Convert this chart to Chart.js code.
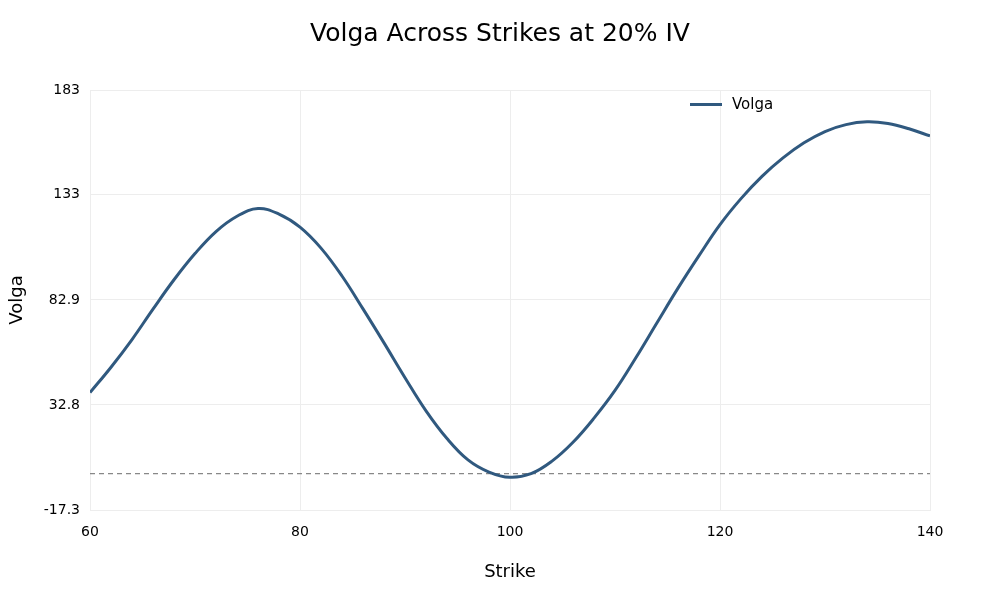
<!DOCTYPE html>
<html>
<head>
<meta charset="utf-8">
<script src="https://cdn.jsdelivr.net/npm/chart.js@4/dist/chart.umd.min.js"></script>
<style>
  body { margin: 0; background: #fff; }
  #wrap { width: 1000px; height: 600px; }
</style>
</head>
<body>
<div id="wrap"><canvas id="chart_volga" width="1000" height="600"></canvas></div>
<script>
// strikes and volga values
const strikes = [60, 62, 64, 66, 68, 70, 72, 74, 76, 78, 80, 82, 84, 86, 88, 90, 92, 94, 96, 98,
                 100, 102, 104, 106, 108, 110, 112, 114, 116, 118, 120, 122, 124, 126, 128, 130, 132, 134, 136, 138, 140];
const volga = [38.7, 50.8, 64, 78.5, 92.5, 105, 115.5, 122.8, 126.5, 123.8, 117.6, 107.6, 94.3, 78.6, 62.4, 45.8, 30, 16.8, 6.6, 0.8,
               -1.7, 0, 6, 15, 26.5, 39.7, 55.4, 72, 88.5, 104, 118.8, 131.2, 141.8, 150.6, 157.8, 163.2, 166.5, 167.8, 167, 164.5, 161.1];
const zeroLine = [0, 0];
const yTicks = [-17.3, 32.8, 82.9, 133, 183];
const xTicks = [60, 80, 100, 120, 140];

const lineColor = '#30597f';
const gridColor = '#ededed';

// small legend drawn inside the plot, top right
const insideLegend = {
    id: 'insideLegend',
    afterDraw(chart) {
        const ctx = chart.ctx;
        ctx.save();
        ctx.strokeStyle = lineColor;
        ctx.lineWidth = 3;
        ctx.beginPath();
        ctx.moveTo(690, 104.5);
        ctx.lineTo(722, 104.5);
        ctx.stroke();
        ctx.fillStyle = '#000';
        ctx.font = '15px "DejaVu Sans"';
        ctx.textBaseline = 'middle';
        ctx.textAlign = 'left';
        ctx.fillText(chart.data.datasets[0].label, 732, 105);
        ctx.restore();
    }
};

const ctxVolga = document.getElementById('chart_volga');
const volgaChart = new Chart(ctxVolga, {
    type: 'line',
    data: {
        datasets: [{
            label: 'Volga',
            data: strikes.map((s, i) => ({ x: s, y: volga[i] })),
            borderColor: lineColor,
            borderWidth: 3,
            pointRadius: 0,
            tension: 0.4,
            fill: false
        }, {
            label: 'zero',
            data: [{ x: strikes[0], y: zeroLine[0] }, { x: strikes[strikes.length - 1], y: zeroLine[1] }],
            borderColor: '#888888',
            borderWidth: 1.3,
            borderDash: [5, 4],
            pointRadius: 0,
            fill: false
        }]
    },
    options: {
        responsive: false,
        animation: false,
        layout: { padding: 0 },
        plugins: {
            legend: { display: false },
            tooltip: { enabled: false },
            title: {
                display: true,
                text: 'Volga Across Strikes at 20% IV',
                color: '#000',
                font: { family: 'DejaVu Sans', size: 25, weight: 'normal' },
                padding: { top: 19, bottom: 41 }
            }
        },
        scales: {
            x: {
                type: 'linear',
                min: 60,
                max: 140,
                afterBuildTicks: (scale) => { scale.ticks = xTicks.map(v => ({ value: v })); },
                afterFit: (scale) => { scale.height = 90; },
                ticks: {
                    color: '#000',
                    padding: 14,
                    font: { family: 'DejaVu Sans', size: 14 }
                },
                grid: { color: gridColor, drawTicks: false },
                border: { color: gridColor },
                title: {
                    display: true,
                    text: 'Strike',
                    color: '#000',
                    font: { family: 'DejaVu Sans', size: 18 },
                    padding: { top: 0, bottom: 17 }
                }
            },
            y: {
                min: -17.3,
                max: 183,
                afterBuildTicks: (scale) => { scale.ticks = yTicks.map(v => ({ value: v })); },
                afterFit: (scale) => { scale.width = 90; },
                ticks: {
                    color: '#000',
                    padding: 10,
                    font: { family: 'DejaVu Sans', size: 14 },
                    callback: (v) => String(v)
                },
                grid: { color: gridColor, drawTicks: false },
                border: { color: gridColor },
                title: {
                    display: true,
                    text: 'Volga',
                    color: '#000',
                    font: { family: 'DejaVu Sans', size: 18 },
                    padding: { top: 7, bottom: 0 }
                }
            },
            // empty right axis, only reserves the right margin
            yRight: {
                position: 'right',
                min: -17.3,
                max: 183,
                afterFit: (scale) => { scale.width = 70; },
                ticks: { display: false },
                grid: { display: false },
                border: { display: false }
            }
        }
    },
    plugins: [insideLegend]
});
</script>
</body>
</html>
